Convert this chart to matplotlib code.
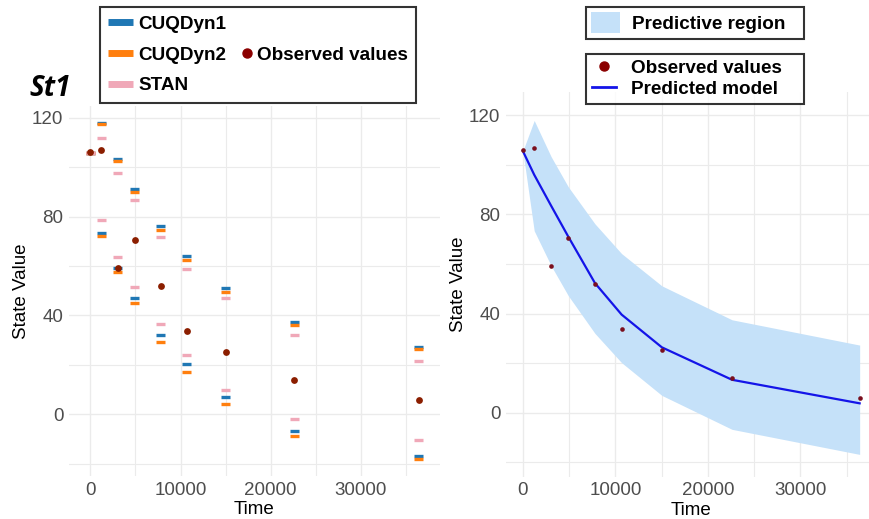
import numpy as np
import matplotlib.pyplot as plt
from matplotlib.lines import Line2D
from matplotlib.patches import Patch
from matplotlib.legend_handler import HandlerLine2D

plt.rcParams['font.family'] = ['Liberation Sans', 'DejaVu Sans']
for k in ['xtick.major.size', 'xtick.minor.size', 'ytick.major.size', 'ytick.minor.size']:
    plt.rcParams[k] = 0

# observation times and observed values of St1
times = [0, 1230, 3060, 4920, 7800, 10680, 15030, 22620, 36420]
observed = [105.9, 106.8, 59.1, 70.7, 51.9, 33.8, 25.3, 14.1, 6.0]

# interval bounds from each method
cuq1_upper = [105.6, 117.9, 103.3, 91.1, 76.2, 64.2, 51.2, 37.5, 27.3]
cuq1_lower = [105.6, 73.4, 59.3, 47.2, 32.0, 20.2, 7.0, -6.7, -16.8]
cuq2_upper = [105.6, 117.3, 102.4, 90.0, 74.4, 62.3, 49.4, 36.0, 26.6]
cuq2_lower = [105.6, 72.0, 57.7, 45.0, 29.3, 17.3, 4.3, -8.9, -18.1]
stan_upper = [105.6, 111.9, 97.6, 86.8, 71.8, 58.7, 47.2, 32.0, 21.5]
stan_lower = [105.6, 78.6, 63.5, 51.5, 36.7, 24.2, 9.8, -2.0, -10.4]

# fitted trajectory
predicted = [105.6, 96.0, 83.5, 71.0, 52.3, 39.6, 26.4, 13.3, 3.8]

C_BLUE = '#1F77B4'
C_ORANGE = '#FF7F0E'
C_PINK = '#F0A8B8'
C_OBS = '#8B1E00'
C_BAND = '#C5E1F9'
C_LINE = '#1414E8'
GRID = '#EBEBEB'
TICK = '#4D4D4D'
LEG_FONT = {'weight': 'bold', 'size': 13.6}


class DotNearText(HandlerLine2D):
    """Legend dot pushed to the right end of its key box."""
    def create_artists(self, legend, orig_handle, xdescent, ydescent,
                       width, height, fontsize, trans):
        arts = super().create_artists(legend, orig_handle, xdescent, ydescent,
                                      width, height, fontsize, trans)
        target = -xdescent + width - 0.2 * fontsize
        for a in arts:
            xd = list(a.get_xdata())
            if len(xd) == 3:
                a.set_xdata([xd[0], target, xd[2]])
            elif len(xd) == 1:
                a.set_xdata([target])
        return arts


def style_axes(ax):
    ax.set_xticks([0, 10000, 20000, 30000])
    ax.set_xticks([5000, 15000, 25000, 35000], minor=True)
    ax.set_yticks([0, 40, 80, 120])
    ax.set_yticks([-20, 20, 60, 100], minor=True)
    ax.grid(True, which='major', color=GRID, lw=1.0)
    ax.grid(True, which='minor', color=GRID, lw=0.8)
    ax.set_axisbelow(True)
    for s in ax.spines.values():
        s.set_visible(False)
    ax.tick_params(which='both', length=0, labelsize=13.5, labelcolor=TICK, pad=4)
    ax.set_xlabel('Time', fontsize=13.5, labelpad=2)
    ax.set_ylabel('State Value', fontsize=13.5, labelpad=1.5)


fig = plt.figure(figsize=(8.7, 5.19), dpi=100)

# left panel: interval bounds per method
ax1 = fig.add_axes([69 / 870, 43 / 519, 371 / 870, 370 / 519])
t = np.array(times)
half = 500
for lo, hi, c in [(cuq1_lower, cuq1_upper, C_BLUE),
                  (cuq2_lower, cuq2_upper, C_ORANGE),
                  (stan_lower, stan_upper, C_PINK)]:
    ax1.hlines(hi, t - half, t + half, colors=c, lw=2.4)
    ax1.hlines(lo, t - half, t + half, colors=c, lw=2.4)
ax1.scatter(times, observed, s=24, color=C_OBS, zorder=5, linewidths=0)
ax1.set_xlim(-2371, 38791)
ax1.set_ylim(-24.9, 124.7)
style_axes(ax1)

fig.text(29 / 870, 1 - 96 / 519, 'St1', fontsize=20, fontweight='bold',
         fontstyle='italic', family=['Open Sans', 'DejaVu Sans'])

obs_key = Line2D([], [], ls='none', marker='o', ms=6.5, color='#8B0000')
handles = [Line2D([], [], color=C_BLUE, lw=5, solid_capstyle='butt'),
           Line2D([], [], color=C_ORANGE, lw=5, solid_capstyle='butt'),
           Line2D([], [], color=C_PINK, lw=5, solid_capstyle='butt'),
           Line2D([], [], color='none'),
           obs_key,
           Line2D([], [], color='none')]
labels = ['CUQDyn1', 'CUQDyn2', 'STAN', '', 'Observed values', '']
leg1 = fig.legend(handles, labels, ncol=2, loc='upper left',
                  bbox_to_anchor=(100 / 870, 1 - 7 / 519),
                  prop=LEG_FONT, handler_map={obs_key: DotNearText()},
                  frameon=True, fancybox=False, edgecolor='black',
                  handlelength=1.3, handletextpad=0.3, columnspacing=0.0,
                  labelspacing=0.72, borderpad=0.45, borderaxespad=0)
leg1.get_frame().set_linewidth(1.5)

# right panel: predictive band with fitted curve
ax2 = fig.add_axes([506 / 870, 42.3 / 519, 370.5 / 870, 384.7 / 519])
ax2.fill_between(times, cuq1_lower, cuq1_upper, color=C_BAND, lw=0)
ax2.plot(times, predicted, color=C_LINE, lw=1.6)
ax2.scatter(times, observed, s=11, color='#7A0F1E', zorder=5, linewidths=0)
ax2.set_xlim(-1821, 38241)
ax2.set_ylim(-25.8, 129.4)
style_axes(ax2)

leg_band = fig.legend([Patch(facecolor=C_BAND)], ['Predictive region'],
                      loc='upper left', mode='expand',
                      bbox_to_anchor=(586 / 870, 1 - 41 / 519, 218 / 870, 34 / 519),
                      prop=LEG_FONT,
                      frameon=True, fancybox=False, edgecolor='black',
                      handlelength=1.5, handleheight=1.35, handletextpad=0.65,
                      borderpad=0.28, borderaxespad=0)
leg_band.get_frame().set_linewidth(1.5)

leg_obs = fig.legend([Line2D([], [], ls='none', marker='o', ms=6.5, color='#8B0000'),
                      Line2D([], [], color=C_LINE, lw=2)],
                     ['Observed values', 'Predicted model'],
                     loc='upper left', mode='expand',
                     bbox_to_anchor=(586 / 870, 1 - 104 / 519, 218 / 870, 50 / 519),
                     prop=LEG_FONT,
                     frameon=True, fancybox=False, edgecolor='black',
                     handlelength=1.3, handletextpad=0.8, labelspacing=0.2,
                     borderpad=0.3, borderaxespad=0)
leg_obs.get_frame().set_linewidth(1.5)

fig.savefig('out.png', dpi=100)
